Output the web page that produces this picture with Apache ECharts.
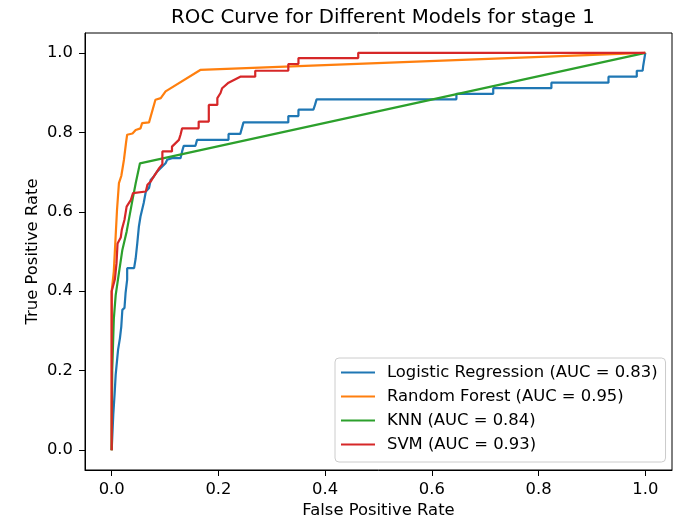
<!DOCTYPE html>
<html>
<head>
<meta charset="utf-8">
<script src="https://cdn.jsdelivr.net/npm/echarts@6/dist/echarts.min.js"></script>
<style>
  html, body { margin: 0; padding: 0; background: #fff; }
  #chart { width: 680px; height: 519px; }
</style>
</head>
<body>
<div id="chart"></div>
<script>
// ROC points (fpr, tpr)
var lrFpr = [0, 0.003, 0.003, 0.0056, 0.0056, 0.0075, 0.0107, 0.012, 0.0155, 0.018, 0.02, 0.024, 0.026, 0.029, 0.029, 0.042, 0.045, 0.048, 0.051, 0.054, 0.06, 0.064, 0.07, 0.073, 0.079, 0.085, 0.092, 0.101, 0.104, 0.113, 0.129, 0.132, 0.135, 0.157, 0.16, 0.219, 0.219, 0.241, 0.247, 0.331, 0.331, 0.35, 0.35, 0.378, 0.381, 0.384, 0.646, 0.646, 0.715, 0.715, 0.824, 0.824, 0.931, 0.931, 0.984, 0.984, 0.995, 0.996, 1.0];
var lrTpr = [0, 0, 0.089, 0.089, 0.144, 0.19, 0.194, 0.253, 0.282, 0.311, 0.353, 0.358, 0.395, 0.429, 0.458, 0.458, 0.483, 0.521, 0.563, 0.588, 0.622, 0.651, 0.66, 0.68, 0.689, 0.701, 0.71, 0.722, 0.731, 0.735, 0.735, 0.752, 0.766, 0.766, 0.781, 0.781, 0.796, 0.796, 0.825, 0.825, 0.841, 0.841, 0.857, 0.857, 0.869, 0.883, 0.883, 0.897, 0.897, 0.911, 0.911, 0.925, 0.925, 0.94, 0.94, 0.955, 0.955, 0.967, 1.0];

var rfFpr = [0, 0, 0.004, 0.0075, 0.01, 0.0136, 0.018, 0.023, 0.027, 0.029, 0.039, 0.045, 0.054, 0.057, 0.07, 0.082, 0.092, 0.101, 0.166, 1.0];
var rfTpr = [0, 0.40, 0.45, 0.54, 0.605, 0.672, 0.69, 0.731, 0.775, 0.794, 0.797, 0.806, 0.81, 0.823, 0.825, 0.882, 0.886, 0.903, 0.957, 1.0];

var knnFpr = [0, 0.001, 0.004, 0.0075, 0.0136, 0.02, 0.028, 0.039, 0.045, 0.053, 1.0];
var knnTpr = [0, 0.2, 0.33, 0.39, 0.446, 0.504, 0.55, 0.63, 0.672, 0.722, 1.0];

var svmFpr = [0, 0, 0.006, 0.009, 0.011, 0.017, 0.019, 0.024, 0.028, 0.036, 0.04, 0.064, 0.067, 0.073, 0.079, 0.085, 0.089, 0.095, 0.095, 0.113, 0.113, 0.126, 0.129, 0.132, 0.163, 0.163, 0.182, 0.182, 0.198, 0.198, 0.204, 0.207, 0.219, 0.241, 0.269, 0.269, 0.331, 0.331, 0.35, 0.35, 0.462, 0.462, 1.0];
var svmTpr = [0, 0.40, 0.43, 0.47, 0.52, 0.535, 0.555, 0.58, 0.613, 0.63, 0.647, 0.651, 0.668, 0.676, 0.689, 0.701, 0.71, 0.72, 0.752, 0.752, 0.764, 0.781, 0.794, 0.81, 0.81, 0.827, 0.827, 0.869, 0.869, 0.886, 0.899, 0.911, 0.925, 0.94, 0.94, 0.955, 0.955, 0.972, 0.972, 0.987, 0.987, 1.0, 1.0];

var modelNames = [
    "Logistic Regression (AUC = 0.83)",
    "Random Forest (AUC = 0.95)",
    "KNN (AUC = 0.84)",
    "SVM (AUC = 0.93)"
];
var tickValues = [0, 0.2, 0.4, 0.6, 0.8, 1.0];
var colors = ["#1f77b4", "#ff7f0e", "#2ca02c", "#d62728"];

function pairs(xs, ys) {
    return xs.map(function (x, i) { return [x, ys[i]]; });
}

var curves = [pairs(lrFpr, lrTpr), pairs(rfFpr, rfTpr), pairs(knnFpr, knnTpr), pairs(svmFpr, svmTpr)];
var font = "DejaVu Sans";

function axis(name, gap) {
    return {
        type: "value",
        min: -0.05,
        max: 1.05,
        name: name,
        nameLocation: "middle",
        nameGap: gap,
        nameMoveOverlap: false,
        nameTextStyle: { fontFamily: font, fontSize: 16.4, color: "#000" },
        splitLine: { show: false },
        axisLine: { show: true, onZero: false, lineStyle: { color: "#000", width: 1 } },
        axisTick: { show: true, length: 6, customValues: tickValues, lineStyle: { color: "#000" } },
        axisLabel: {
            customValues: tickValues,
            margin: 12,
            fontFamily: font,
            fontSize: 16.4,
            color: "#000",
            formatter: function (v) { return v.toFixed(1); }
        }
    };
}

var chart = echarts.init(document.getElementById("chart"));
chart.setOption({
    animation: false,
    color: colors,
    title: {
        text: "ROC Curve for Different Models for stage 1",
        left: 378,
        textAlign: "center",
        top: 3,
        textStyle: { fontFamily: font, fontSize: 19.8, fontWeight: "normal", color: "#000" }
    },
    grid: {
        left: 85, top: 33, right: 8, bottom: 49,
        outerBoundsMode: "none",
        containLabel: false,
        show: true, borderColor: "#000", borderWidth: 1
    },
    legend: {
        orient: "vertical",
        left: 335,
        top: 358,
        padding: [6, 8, 9, 5],
        itemWidth: 34,
        itemHeight: 17,
        itemGap: 7,
        backgroundColor: "rgba(255,255,255,0.8)",
        borderColor: "#ccc",
        borderWidth: 1,
        borderRadius: 4,
        itemStyle: { opacity: 0 },
        textStyle: { fontFamily: font, fontSize: 16.4, color: "#000", lineHeight: 17, padding: [0, 0, 0, 7] },
        data: modelNames
    },
    xAxis: axis("False Positive Rate", 33),
    yAxis: axis("True Positive Rate", 44),
    series: modelNames.map(function (n, i) {
        return {
            name: n,
            type: "line",
            data: curves[i],
            symbol: "none",
            lineStyle: { width: 2.2, color: colors[i] },
            itemStyle: { color: colors[i] }
        };
    })
});
</script>
</body>
</html>
